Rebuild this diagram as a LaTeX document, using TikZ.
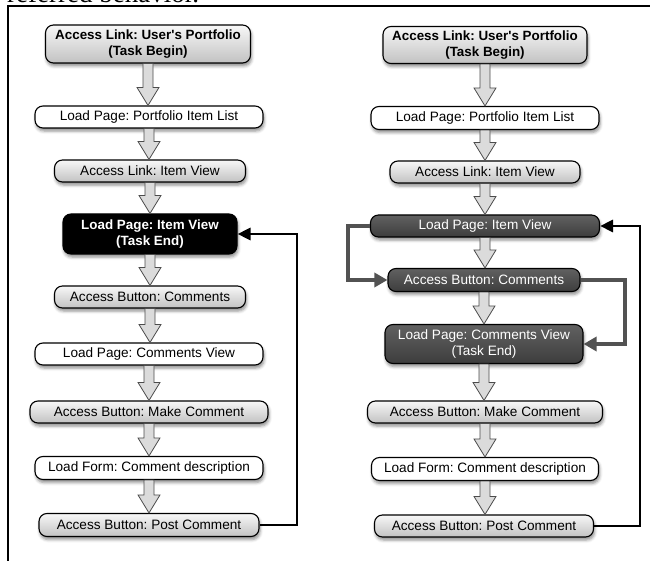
\documentclass[tikz,border=0pt]{standalone}
\usepackage{fontspec}
\setmainfont{Liberation Sans}
\newfontfamily\bodyserif{Liberation Serif}
\usetikzlibrary{calc,arrows.meta,shadows.blur}
\frenchspacing

% block arrow between two stacked steps
\newcommand{\stepflow}[2]{%
  \path[hollowarrow] let \p1=(#1.south), \p2=(#2.north) in
    (\x1-5pt,\y1) -- (\x1-5pt,\y2+18pt) -- (\x1-11pt,\y2+18pt) -- (\x1,\y2)
    -- (\x1+11pt,\y2+18pt) -- (\x1+5pt,\y2+18pt) -- (\x1+5pt,\y1) -- cycle;}

\begin{document}
\begin{tikzpicture}[x=1pt,y=-1pt,
  flowbox/.style={draw=black, line width=1.1pt, rounded corners=8pt, inner sep=0pt,
    align=center, font=\fontsize{13.6}{16}\selectfont,
    blur shadow={shadow xshift=1pt, shadow yshift=-3pt, shadow blur radius=3pt, shadow opacity=45}},
  graybox/.style={flowbox, top color=gray!6, bottom color=gray!48},
  whitebox/.style={flowbox, fill=white},
  darkbox/.style={flowbox, top color=black!62, bottom color=black!76, text=white},
  blackbox/.style={flowbox, fill=black, text=white},
  boldtext/.style={font=\fontsize{13.4}{16}\selectfont\bfseries},
  hollowarrow/.style={draw=black!70, line width=0.8pt, fill=gray!28},
  backlink/.style={draw=black, line width=2.8pt, -{Triangle[length=13pt,width=12pt]}},
  sidelink/.style={draw=black!68, line width=3.6pt, -{Triangle[length=13pt,width=14pt]}}]

\useasboundingbox (0,0) rectangle (650,561);
\clip (0,0) rectangle (650,561);

% running text of the page and the frame
\node[anchor=base west, inner sep=0pt, font=\bodyserif\fontsize{27}{30}\selectfont] (caption) at (7,3) {referred behavior.};
\draw[line width=2pt] (8,561) -- (8,6) -- (650,6);

% left flow
\node[graybox, boldtext, minimum width=205, minimum height=38] (L1) at (148,44) {Access Link: User\textquotesingle s Portfolio\\(Task Begin)};
\node[whitebox, minimum width=228, minimum height=22] (L2) at (149,117) {Load Page: Portfolio Item List};
\node[graybox, minimum width=191, minimum height=22] (L3) at (150,171) {Access Link: Item View};
\node[blackbox, boldtext, minimum width=174, minimum height=40] (L4) at (150,234) {Load Page: Item View\\(Task End)};
\node[graybox, minimum width=191, minimum height=22] (L5) at (150,297) {Access Button: Comments};
\node[whitebox, minimum width=228, minimum height=22] (L6) at (149,354) {Load Page: Comments View};
\node[graybox, minimum width=238, minimum height=22] (L7) at (149,412) {Access Button: Make Comment};
\node[whitebox, minimum width=228, minimum height=23] (L8) at (149,468) {Load Form: Comment description};
\node[graybox, minimum width=220, minimum height=23] (L9) at (149,525) {Access Button: Post Comment};

% right flow
\node[graybox, boldtext, minimum width=204, minimum height=37] (R1) at (485,45) {Access Link: User\textquotesingle s Portfolio\\(Task Begin)};
\node[whitebox, minimum width=228, minimum height=23] (R2) at (485,118) {Load Page: Portfolio Item List};
\node[graybox, minimum width=190, minimum height=22] (R3) at (485,172) {Access Link: Item View};
\node[darkbox, minimum width=229, minimum height=22] (R4) at (485,226) {Load Page: Item View};
\node[darkbox, minimum width=192, minimum height=23] (R5) at (484,280) {Access Button: Comments};
\node[darkbox, minimum width=198, minimum height=39] (R6) at (484,344) {Load Page: Comments View\\(Task End)};
\node[graybox, minimum width=235, minimum height=22] (R7) at (485,412) {Access Button: Make Comment};
\node[whitebox, minimum width=227, minimum height=23] (R8) at (485,469) {Load Form: Comment description};
\node[graybox, minimum width=219, minimum height=22] (R9) at (484,526) {Access Button: Post Comment};

% block arrows down each column
\foreach \a/\b in {L1/L2,L2/L3,L3/L4,L4/L5,L5/L6,L6/L7,L7/L8,L8/L9,
                   R1/R2,R2/R3,R3/R4,R4/R5,R5/R6,R6/R7,R7/R8,R8/R9}
  {\stepflow{\a}{\b}}

% return links
\coordinate (lrail) at (297,0);
\coordinate (rrail) at (640,0);
\draw[backlink] (L9.east) -- (L9.east -| lrail) |- (L4.east);
\draw[backlink] (R9.east) -- (R9.east -| rrail) |- (R4.east);

% side links of the right flow
\coordinate (srail) at (348,0);
\coordinate (erail) at (625,0);
\draw[sidelink] (R4.west) -- (R4.west -| srail) |- (R5.west);
\draw[sidelink] (R5.east) -- (R5.east -| erail) |- (R6.east);
\end{tikzpicture}
\end{document}
